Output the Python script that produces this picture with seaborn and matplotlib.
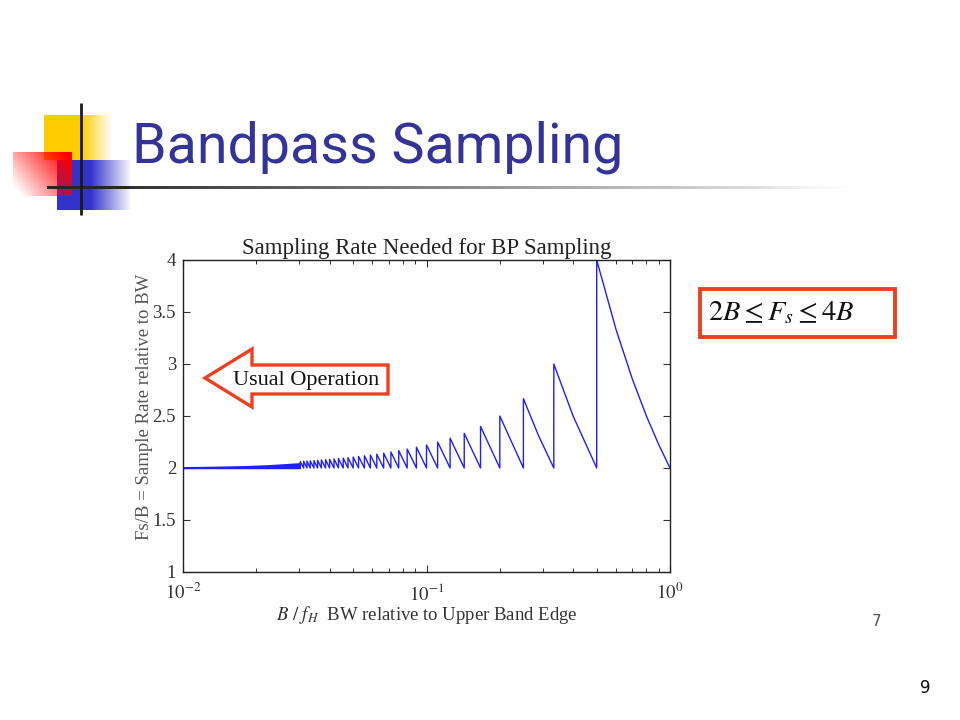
import numpy as np
import pandas as pd
import matplotlib
matplotlib.use("Agg")
import matplotlib.pyplot as plt
import seaborn as sns
from matplotlib.patches import Polygon, Rectangle

# B/fH where each sawtooth jumps up, and the Fs/B value reached at the jump
jump_x = [0.5, 0.3333, 0.25, 0.2, 0.1667, 0.1429, 0.125, 0.1111, 0.1, 0.0909,
          0.0833, 0.0769, 0.0714, 0.0667, 0.0625, 0.0588, 0.0556, 0.0526, 0.05,
          0.0476, 0.0455, 0.0435, 0.0417, 0.04, 0.0385, 0.037, 0.0357, 0.0345,
          0.0333, 0.0323, 0.0313, 0.0303]
peak_y = [4.0, 3.0, 2.667, 2.5, 2.4, 2.333, 2.286, 2.25, 2.222, 2.2,
          2.182, 2.167, 2.154, 2.143, 2.133, 2.125, 2.118, 2.111, 2.105,
          2.1, 2.095, 2.091, 2.087, 2.083, 2.08, 2.077, 2.074, 2.071,
          2.069, 2.067, 2.065, 2.062]
# extra points read along the long falling edges of the biggest teeth
edge_x = [0.6, 0.7, 0.8, 0.9, 0.4, 0.2887]
edge_y = [3.333, 2.857, 2.5, 2.222, 2.5, 2.309]
# left part where the teeth are too dense to separate: a thin band
band_x = [0.01, 0.012, 0.015, 0.018, 0.022, 0.026, 0.0303]
band_top = [2.014, 2.016, 2.02, 2.024, 2.032, 2.042, 2.052]

y_ticks = [1, 1.5, 2, 2.5, 3, 3.5, 4]
y_labels = ["1", "1.5", "2", "2.5", "3", "3.5", "4"]
x_ticks = [0.01, 0.1, 1]
x_labels = [r"$10^{-2}$", r"$10^{-1}$", r"$10^{0}$"]

# build the sawtooth path from left to right
starts = sorted(jump_x)
ends = starts[1:] + [1.0]
peaks = dict(zip(jump_x, peak_y))
px, py = [], []
for s, e in zip(starts, ends):
    px += [s, s]
    py += [2.0, peaks[s]]
    for x, y in sorted((x, y) for x, y in zip(edge_x, edge_y) if s < x < e):
        px.append(x)
        py.append(y)
px.append(1.0)
py.append(2.0)
curve = pd.DataFrame({"x": px, "y": py})

sns.set_style("white")
plt.rcParams["font.family"] = ["Liberation Serif", "DejaVu Serif"]
plt.rcParams["mathtext.fontset"] = "stix"

blue = "#1f1fff"
red = "#ee4020"

fig = plt.figure(figsize=(9.6, 7.2), dpi=100)
fig.patch.set_facecolor("white")
ax = fig.add_axes([183 / 960, 1 - 572 / 720, 487 / 960, 312 / 720])

ax.fill_between(band_x, 1.993, band_top, color=blue, lw=0)
sns.lineplot(x=band_x, y=[2.0] * len(band_x), ax=ax, color=blue, lw=1.4)
sns.lineplot(data=curve, x="x", y="y", sort=False, estimator=None, ax=ax,
             color=blue, lw=1.0)

ax.set_xscale("log")
ax.set_xlim(0.01, 1)
ax.set_ylim(1, 4)
ax.set_xticks(x_ticks)
ax.set_xticklabels(x_labels, fontsize=13.5)
ax.set_yticks(y_ticks)
ax.set_yticklabels(y_labels, fontsize=13.5)
ax.tick_params(which="both", direction="in", bottom=True, left=True, top=True,
               right=True, colors="#333333")
ax.tick_params(which="major", length=5, width=0.8, pad=5)
ax.tick_params(which="minor", length=3, width=0.7)
ax.tick_params(axis="x", which="major", pad=8)
for sp in ax.spines.values():
    sp.set_color("#222222")
    sp.set_linewidth(1.0)
ax.set_title("Sampling Rate Needed for BP Sampling", fontsize=16.5, color="#222222", pad=4)
ax.set_xlabel(r"$B\ /\ f_H$  BW relative to Upper Band Edge", fontsize=13.5,
              color="#333333", labelpad=0)
ax.set_ylabel("Fs/B = Sample Rate relative to BW", fontsize=13.5, color="#555555")
ax.yaxis.set_label_coords(-0.062, 0.529)

# slide decorations, drawn in pixel coordinates
ov = fig.add_axes([0, 0, 1, 1], zorder=10)
ov.set_facecolor("none")
ov.axis("off")


def grad(c, a, n=200):
    img = np.zeros((1, n, 4))
    img[0, :, :3] = c
    img[0, :, 3] = a
    return img


t = np.linspace(0, 1, 200)
ov.imshow(grad([1.0, 0.8, 0.0], np.clip((1 - t) / 0.45, 0, 1)),
          extent=(44, 112, 160, 115), aspect="auto", interpolation="bilinear")
ov.imshow(grad([0.2, 0.2, 0.8], np.clip((1 - t) / 0.55, 0, 1)),
          extent=(57, 132, 210, 160), aspect="auto", interpolation="bilinear")
u, v = np.meshgrid(np.linspace(0, 1, 100), np.linspace(1, 0, 100))
red_img = np.zeros((100, 100, 4))
red_img[..., 0] = 1.0
red_img[..., 3] = np.clip((u * 0.75 + v * 0.45) - 0.1, 0, 1)
ov.imshow(red_img, extent=(13, 72, 196, 152), aspect="auto", interpolation="bilinear")

line_img = np.ones((1, 400, 4))
tt = np.linspace(0, 1, 400)
shade = np.clip((tt - 0.1) / 0.9, 0, 1) * 0.8 + 0.2
shade[tt < 0.1] = 0.15
line_img[0, :, 0] = shade
line_img[0, :, 1] = shade
line_img[0, :, 2] = shade
line_img[0, :, 3] = np.clip((1 - tt) / 0.15, 0, 1)
ov.imshow(line_img, extent=(47, 880, 189.5, 186.5), aspect="auto", interpolation="bilinear")
ov.plot([81, 81], [103, 215], color="#1a1a1a", lw=2.0, solid_capstyle="butt")

ov.text(132, 162, "Bandpass Sampling", fontsize=40, color="#333399",
        family=["Roboto", "DejaVu Sans"], ha="left", va="baseline")

arrow = Polygon([(205, 378), (252, 349), (252, 365), (388, 365), (388, 394),
                 (252, 394), (252, 407)], closed=True, facecolor="white",
                edgecolor=red, lw=2.4, joinstyle="miter")
ov.add_patch(arrow)
ov.text(306, 381, "Usual Operation", fontsize=16, color="#111111",
        ha="center", va="center")

ov.add_patch(Rectangle((700, 289), 195, 48, facecolor="white", edgecolor=red, lw=2.8))
ov.text(708, 313, r"$2B \leq F_s \leq 4B$", fontsize=20.5, color="#111111",
        ha="left", va="center")

ov.text(877, 622, "7", fontsize=11, color="#555555", family=["DejaVu Sans"],
        ha="center", va="center")
ov.text(925, 688, "9", fontsize=12, color="#111111", family=["DejaVu Sans"],
        ha="center", va="center")

ov.set_xlim(0, 960)
ov.set_ylim(720, 0)

fig.savefig("out.png", dpi=100, facecolor="white")
